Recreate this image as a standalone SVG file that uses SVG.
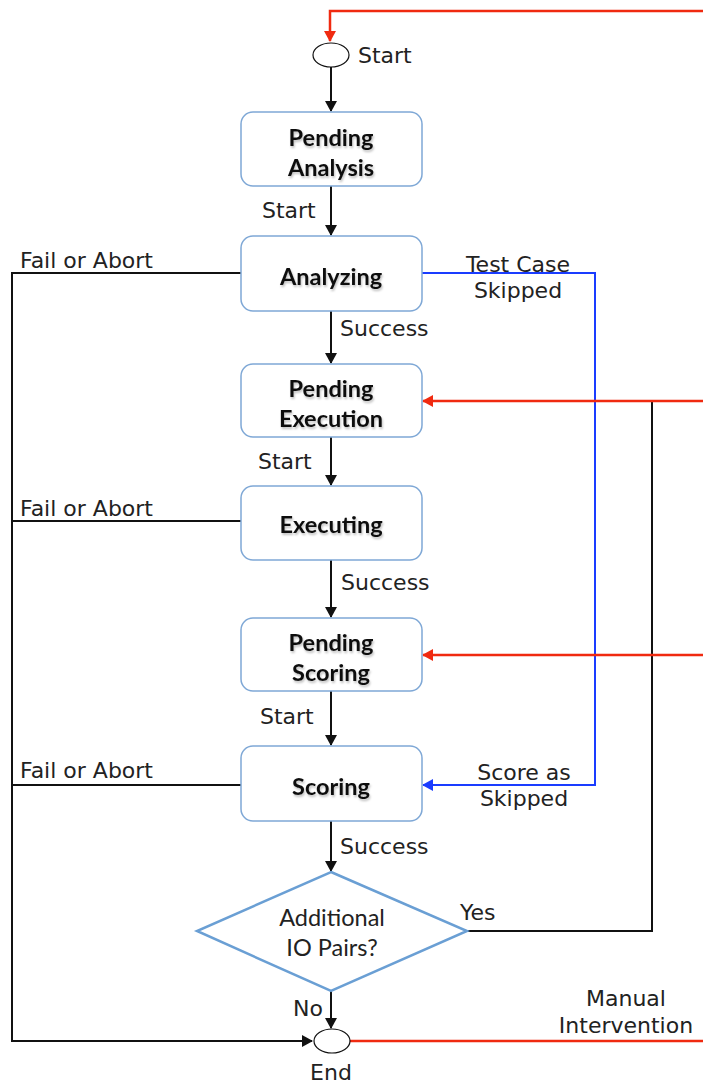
<svg xmlns="http://www.w3.org/2000/svg" width="703" height="1084" viewBox="0 0 703 1084">
<style>
.box{fill:#fff;stroke:#7fa8d6;stroke-width:1.5}
.bt{font-family:Lato,"Open Sans",sans-serif;font-weight:bold;font-size:23.5px;fill:#111;text-anchor:middle}
.lbl{font-family:"DejaVu Sans",sans-serif;font-size:22px;fill:#222}
.mid{text-anchor:middle}
.dt{font-family:Lato,"Open Sans",sans-serif;font-size:23.5px;fill:#222;text-anchor:middle}
.k{fill:none;stroke:#111;stroke-width:2}
.r{fill:none;stroke:#f02a10;stroke-width:2.5}
.b{fill:none;stroke:#1a3cff;stroke-width:2}
.term{fill:#fff;stroke:#111;stroke-width:1.2}
</style>
<defs>
<marker id="ak" markerWidth="12" markerHeight="12" refX="10" refY="6" orient="auto" markerUnits="userSpaceOnUse"><path d="M0,0 L11,6 L0,12 Z" fill="#111"/></marker>
<marker id="ar" markerWidth="12" markerHeight="12" refX="10" refY="6" orient="auto" markerUnits="userSpaceOnUse"><path d="M0,0 L11,6 L0,12 Z" fill="#f02a10"/></marker>
<marker id="ab" markerWidth="12" markerHeight="12" refX="10" refY="6" orient="auto" markerUnits="userSpaceOnUse"><path d="M0,0 L11,6 L0,12 Z" fill="#1a3cff"/></marker>
<filter id="sh" x="-10%" y="-20%" width="130%" height="160%"><feDropShadow dx="1" dy="2" stdDeviation="1.2" flood-color="#000" flood-opacity="0.25"/></filter>
</defs>

<g id="connectors">
<path class="r" d="M703,11 H330 V41" marker-end="url(#ar)"/>
<path class="k" d="M331,67 V111" marker-end="url(#ak)"/>
<path class="k" d="M331,186 V235" marker-end="url(#ak)"/>
<path class="k" d="M331,311 V363" marker-end="url(#ak)"/>
<path class="k" d="M331,437 V485" marker-end="url(#ak)"/>
<path class="k" d="M331,560 V617" marker-end="url(#ak)"/>
<path class="k" d="M331,691 V745" marker-end="url(#ak)"/>
<path class="k" d="M331,821 V871" marker-end="url(#ak)"/>
<path class="k" d="M331,991 V1028" marker-end="url(#ak)"/>
<path class="k" d="M241,273 H12 V1041 H312" marker-end="url(#ak)"/>
<path class="k" d="M241,521 H12"/>
<path class="k" d="M241,785 H12"/>
<path class="b" d="M422,273 H595 V785 H423" marker-end="url(#ab)"/>
<path class="k" d="M467,931 H652 V401"/>
<path class="r" d="M703,401 H423" marker-end="url(#ar)"/>
<path class="r" d="M703,655 H423" marker-end="url(#ar)"/>
<path class="r" d="M350,1041 H703"/>
</g>

<g id="start">
<ellipse class="term" cx="331" cy="55" rx="18" ry="12"/>
<text class="lbl" x="358" y="63">Start</text>
</g>
<g id="pending-analysis">
<rect class="box" x="241" y="112" width="181" height="74" rx="12"/>
<text class="bt" filter="url(#sh)" x="331" y="146">Pending</text>
<text class="bt" filter="url(#sh)" x="331" y="176">Analysis</text>
</g>
<g id="analyzing">
<rect class="box" x="241" y="236" width="181" height="75" rx="12"/>
<text class="bt" filter="url(#sh)" x="331" y="285">Analyzing</text>
</g>
<g id="pending-execution">
<rect class="box" x="241" y="364" width="181" height="73" rx="12"/>
<text class="bt" filter="url(#sh)" x="331" y="397">Pending</text>
<text class="bt" filter="url(#sh)" x="331" y="427">Execution</text>
</g>
<g id="executing">
<rect class="box" x="241" y="486" width="181" height="74" rx="12"/>
<text class="bt" filter="url(#sh)" x="331" y="533">Executing</text>
</g>
<g id="pending-scoring">
<rect class="box" x="241" y="618" width="181" height="73" rx="12"/>
<text class="bt" filter="url(#sh)" x="331" y="651">Pending</text>
<text class="bt" filter="url(#sh)" x="331" y="681">Scoring</text>
</g>
<g id="scoring">
<rect class="box" x="241" y="746" width="181" height="75" rx="12"/>
<text class="bt" filter="url(#sh)" x="331" y="795">Scoring</text>
</g>
<g id="decision">
<polygon points="331,872 467,931 331,991 197,931" fill="#fff" stroke="#6a9fd4" stroke-width="2.5"/>
<text class="dt" x="332" y="926">Additional</text>
<text class="dt" x="332" y="956">IO Pairs?</text>
</g>
<g id="end">
<ellipse class="term" cx="332" cy="1041" rx="18" ry="12"/>
<text class="lbl mid" x="331" y="1080">End</text>
</g>

<g id="labels">
<text class="lbl" x="262" y="218">Start</text>
<text class="lbl" x="340" y="336">Success</text>
<text class="lbl" x="258" y="469">Start</text>
<text class="lbl" x="341" y="590">Success</text>
<text class="lbl" x="260" y="724">Start</text>
<text class="lbl" x="340" y="854">Success</text>
<text class="lbl" x="20" y="268">Fail or Abort</text>
<text class="lbl" x="20" y="516">Fail or Abort</text>
<text class="lbl" x="20" y="778">Fail or Abort</text>
<text class="lbl mid" x="518" y="272">Test Case</text>
<text class="lbl mid" x="518" y="298">Skipped</text>
<text class="lbl mid" x="524" y="780">Score as</text>
<text class="lbl mid" x="524" y="806">Skipped</text>
<text class="lbl" x="460" y="920">Yes</text>
<text class="lbl" x="293" y="1016">No</text>
<text class="lbl mid" x="626" y="1006">Manual</text>
<text class="lbl mid" x="626" y="1033">Intervention</text>
</g>
</svg>
